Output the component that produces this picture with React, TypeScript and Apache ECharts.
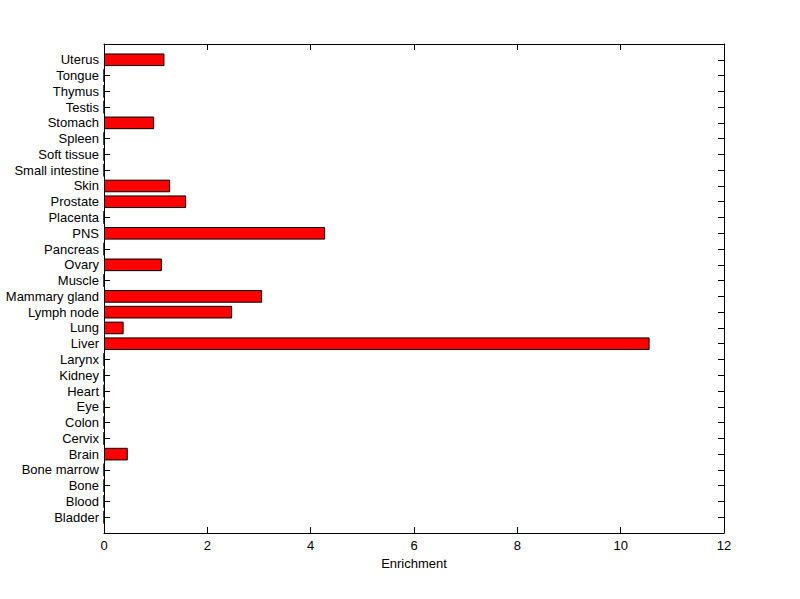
import React, { useEffect, useRef } from "react";
import * as echarts from "echarts";

const categories = [
  "Bladder", "Blood", "Bone", "Bone marrow", "Brain", "Cervix", "Colon", "Eye",
  "Heart", "Kidney", "Larynx", "Liver", "Lung", "Lymph node", "Mammary gland",
  "Muscle", "Ovary", "Pancreas", "PNS", "Placenta", "Prostate", "Skin",
  "Small intestine", "Soft tissue", "Spleen", "Stomach", "Testis", "Thymus",
  "Tongue", "Uterus",
];
const enrichment = [
  0, 0, 0, 0, 0.46, 0, 0, 0, 0, 0, 0, 10.56, 0.38, 2.48, 3.06, 0, 1.12, 0,
  4.28, 0, 1.59, 1.28, 0, 0, 0, 0.97, 0, 0, 0, 1.17,
];
const xTicks = { min: 0, max: 12, interval: 2 };

export default function App() {
  const ref = useRef<HTMLDivElement>(null);
  useEffect(() => {
    if (!ref.current) return;
    const chart = echarts.init(ref.current, null, { renderer: "svg" });
    const cats = ["", ...categories, ""];
    const vals: any[] = ["-", ...enrichment, "-"];
    const font = { fontFamily: "Liberation Sans, Arial, sans-serif", fontSize: 13, color: "#000" };
    const axisLine = { show: true, onZero: false, lineStyle: { color: "#000", width: 1 } };
    const tick = { show: true, inside: true, length: 6, lineStyle: { color: "#000", width: 1 } };
    chart.setOption({
      animation: false,
      backgroundColor: "#fff",
      grid: { left: 104, right: 76, top: 44, bottom: 66, containLabel: false },
      xAxis: [
        {
          type: "value",
          position: "bottom",
          min: xTicks.min,
          max: xTicks.max,
          interval: xTicks.interval,
          name: "Enrichment",
          nameLocation: "middle",
          nameGap: 23,
          nameTextStyle: font,
          axisLine,
          axisTick: tick,
          axisLabel: { ...font, margin: 6 },
          splitLine: { show: false },
        },
        {
          type: "value",
          position: "top",
          min: xTicks.min,
          max: xTicks.max,
          interval: xTicks.interval,
          axisLine,
          axisTick: tick,
          axisLabel: { show: false },
          splitLine: { show: false },
        },
      ],
      yAxis: [
        {
          type: "category",
          position: "left",
          data: cats,
          boundaryGap: false,
          axisLine,
          axisTick: { ...tick, interval: 0 },
          axisLabel: { ...font, margin: 5, interval: 0 },
        },
        {
          type: "category",
          position: "right",
          data: cats,
          boundaryGap: false,
          axisLine,
          axisTick: { ...tick, interval: 0 },
          axisLabel: { show: false },
        },
      ],
      series: [
        {
          type: "bar",
          xAxisIndex: 0,
          yAxisIndex: 0,
          data: vals,
          barWidth: "80%",
          itemStyle: { color: "#ff0000", borderColor: "#000", borderWidth: 1 },
        },
      ],
    });
    return () => chart.dispose();
  }, []);
  return (
    <div
      ref={ref}
      style={{ position: "fixed", left: 0, top: 0, width: 800, height: 599 }}
    />
  );
}
